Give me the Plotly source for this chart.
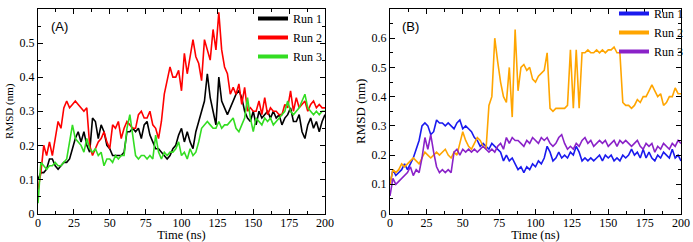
import plotly.graph_objects as go

# ---------------- data ----------------
time_ns = list(range(0, 201, 2))

a_run1 = [0.10, 0.12, 0.12, 0.13, 0.16, 0.16, 0.14, 0.13, 0.14, 0.15,
          0.15, 0.16, 0.19, 0.22, 0.24, 0.21, 0.24, 0.20, 0.18, 0.28,
          0.27, 0.22, 0.26, 0.24, 0.20, 0.19, 0.17, 0.17, 0.17, 0.17,
          0.18, 0.24, 0.24, 0.25, 0.24, 0.25, 0.22, 0.26, 0.27, 0.23,
          0.21, 0.19, 0.19, 0.18, 0.17, 0.16, 0.17, 0.19, 0.20, 0.23,
          0.25, 0.21, 0.24, 0.21, 0.19, 0.24, 0.27, 0.30, 0.33, 0.41,
          0.34, 0.30, 0.26, 0.40, 0.33, 0.31, 0.29, 0.31, 0.33, 0.35,
          0.36, 0.34, 0.30, 0.28, 0.27, 0.30, 0.26, 0.30, 0.28, 0.29,
          0.30, 0.28, 0.30, 0.28, 0.29, 0.26, 0.28, 0.29, 0.31, 0.27,
          0.27, 0.29, 0.24, 0.22, 0.26, 0.28, 0.25, 0.27, 0.24, 0.27,
          0.29]
a_run2 = [0.07, 0.12, 0.20, 0.17, 0.21, 0.17, 0.22, 0.27, 0.25, 0.31,
          0.33, 0.31, 0.32, 0.33, 0.32, 0.31, 0.30, 0.31, 0.20, 0.17,
          0.19, 0.21, 0.22, 0.24, 0.21, 0.19, 0.26, 0.25, 0.27, 0.22,
          0.25, 0.27, 0.26, 0.25, 0.25, 0.29, 0.30, 0.28, 0.28, 0.30,
          0.26, 0.25, 0.22, 0.27, 0.35, 0.39, 0.43, 0.40, 0.40, 0.42,
          0.36, 0.47, 0.41, 0.46, 0.51, 0.46, 0.44, 0.39, 0.51, 0.48,
          0.45, 0.54, 0.48, 0.59, 0.48, 0.43, 0.41, 0.35, 0.37, 0.35,
          0.38, 0.32, 0.37, 0.30, 0.31, 0.30, 0.30, 0.33, 0.29, 0.34,
          0.29, 0.31, 0.30, 0.30, 0.29, 0.29, 0.32, 0.31, 0.36, 0.30,
          0.34, 0.31, 0.32, 0.33, 0.30, 0.32, 0.33, 0.31, 0.32, 0.31,
          0.31]
a_run3 = [0.03, 0.15, 0.14, 0.13, 0.14, 0.14, 0.15, 0.14, 0.14, 0.15,
          0.16, 0.21, 0.26, 0.22, 0.21, 0.20, 0.18, 0.22, 0.19, 0.18,
          0.19, 0.17, 0.18, 0.14, 0.16, 0.16, 0.15, 0.17, 0.16, 0.17,
          0.17, 0.25, 0.29, 0.23, 0.17, 0.16, 0.17, 0.17, 0.16, 0.17,
          0.16, 0.23, 0.18, 0.16, 0.18, 0.17, 0.18, 0.18, 0.19, 0.21,
          0.17, 0.18, 0.16, 0.19, 0.17, 0.18, 0.21, 0.25, 0.26, 0.27,
          0.26, 0.25, 0.25, 0.27, 0.25, 0.26, 0.26, 0.27, 0.28, 0.25,
          0.24, 0.26, 0.28, 0.34, 0.28, 0.24, 0.28, 0.27, 0.26, 0.28,
          0.27, 0.28, 0.26, 0.27, 0.28, 0.29, 0.30, 0.33, 0.30, 0.29,
          0.30, 0.31, 0.33, 0.35, 0.31, 0.30, 0.29, 0.30, 0.29, 0.30,
          0.30]

b_run1 = [0.10, 0.15, 0.13, 0.14, 0.15, 0.17, 0.15, 0.17, 0.19, 0.22,
          0.25, 0.30, 0.31, 0.30, 0.27, 0.28, 0.32, 0.31, 0.31, 0.30,
          0.31, 0.30, 0.29, 0.31, 0.32, 0.29, 0.30, 0.29, 0.28, 0.26,
          0.25, 0.23, 0.24, 0.23, 0.22, 0.24, 0.23, 0.22, 0.21, 0.18,
          0.20, 0.18, 0.19, 0.17, 0.15, 0.16, 0.14, 0.16, 0.15, 0.17,
          0.16, 0.18, 0.17, 0.19, 0.23, 0.21, 0.18, 0.19, 0.21, 0.19,
          0.20, 0.19, 0.21, 0.20, 0.23, 0.21, 0.18, 0.19, 0.18, 0.19,
          0.18, 0.19, 0.20, 0.18, 0.20, 0.19, 0.20, 0.18, 0.19, 0.18,
          0.20, 0.19, 0.20, 0.22, 0.20, 0.21, 0.19, 0.22, 0.19, 0.21,
          0.19, 0.18, 0.20, 0.19, 0.21, 0.20, 0.19, 0.22, 0.19, 0.20,
          0.18]
b_run2 = [0.10, 0.15, 0.14, 0.15, 0.17, 0.16, 0.17, 0.18, 0.19, 0.18,
          0.17, 0.19, 0.21, 0.20, 0.19, 0.20, 0.21, 0.20, 0.21, 0.22,
          0.20, 0.19, 0.21, 0.20, 0.24, 0.28, 0.25, 0.23, 0.22, 0.24,
          0.26, 0.25, 0.23, 0.22, 0.37, 0.40, 0.60, 0.52, 0.45, 0.40,
          0.38, 0.50, 0.33, 0.63, 0.42, 0.50, 0.51, 0.49, 0.50, 0.46,
          0.45, 0.47, 0.48, 0.49, 0.55, 0.36, 0.35, 0.36, 0.36, 0.36,
          0.36, 0.37, 0.56, 0.36, 0.56, 0.36, 0.55, 0.55, 0.56, 0.55,
          0.55, 0.56, 0.55, 0.56, 0.55, 0.56, 0.56, 0.57, 0.55, 0.55,
          0.38, 0.37, 0.37, 0.36, 0.37, 0.39, 0.38, 0.40, 0.40, 0.42,
          0.44, 0.42, 0.40, 0.41, 0.37, 0.38, 0.40, 0.40, 0.43, 0.41,
          0.41]
b_run3 = [0.06, 0.12, 0.10, 0.11, 0.12, 0.13, 0.14, 0.16, 0.13, 0.15,
          0.14, 0.19, 0.26, 0.22, 0.27, 0.21, 0.16, 0.14, 0.15, 0.14,
          0.15, 0.14, 0.21, 0.22, 0.20, 0.22, 0.21, 0.22, 0.21, 0.22,
          0.21, 0.22, 0.23, 0.22, 0.21, 0.22, 0.21, 0.23, 0.24, 0.22,
          0.26, 0.24, 0.26, 0.25, 0.25, 0.24, 0.23, 0.25, 0.24, 0.26,
          0.25, 0.24, 0.26, 0.25, 0.26, 0.24, 0.23, 0.24, 0.26, 0.27,
          0.24, 0.22, 0.23, 0.22, 0.24, 0.23, 0.25, 0.26, 0.24, 0.25,
          0.23, 0.24, 0.25, 0.24, 0.25, 0.23, 0.24, 0.25, 0.23, 0.25,
          0.24, 0.25, 0.24, 0.23, 0.24, 0.25, 0.23, 0.22, 0.24, 0.23,
          0.24, 0.21, 0.23, 0.22, 0.24, 0.23, 0.22, 0.24, 0.23, 0.25,
          0.24]

run_names = ["Run 1", "Run 2", "Run 3"]
colors_a = ["#000000", "#ff0000", "#33dd22"]
colors_b = ["#1a1aee", "#ffa500", "#8a22c8"]
x_ticks = [0, 25, 50, 75, 100, 125, 150, 175, 200]
y_ticks_a = [0, 0.1, 0.2, 0.3, 0.4, 0.5]
y_ticks_b = [0, 0.1, 0.2, 0.3, 0.4, 0.5, 0.6]

SERIF = "'Liberation Serif', 'Times New Roman', Times, 'DejaVu Serif', serif"
SANS = "'Liberation Sans', Arial, Helvetica, sans-serif"

fig = go.Figure()

for name, ys, c in zip(run_names, [a_run1, a_run2, a_run3], colors_a):
    fig.add_trace(go.Scatter(x=time_ns, y=ys, mode="lines", name=name,
                             line=dict(color=c, width=1.6), showlegend=False,
                             xaxis="x", yaxis="y"))
for name, ys, c in zip(run_names, [b_run1, b_run2, b_run3], colors_b):
    fig.add_trace(go.Scatter(x=time_ns, y=ys, mode="lines", name=name,
                             line=dict(color=c, width=1.6), showlegend=False,
                             xaxis="x2", yaxis="y2"))
# legend entries (thick sample lines)
for name, c in zip(run_names, colors_a):
    fig.add_trace(go.Scatter(x=[None], y=[None], mode="lines", name=name,
                             line=dict(color=c, width=4), legend="legend",
                             xaxis="x", yaxis="y"))
for name, c in zip(run_names, colors_b):
    fig.add_trace(go.Scatter(x=[None], y=[None], mode="lines", name=name,
                             line=dict(color=c, width=4), legend="legend2",
                             xaxis="x2", yaxis="y2"))

W, H = 693, 242

def xax(domain, anchor):
    return dict(domain=domain, anchor=anchor, range=[0, 200],
                tickvals=x_ticks, ticks="inside", ticklen=5, tickcolor="black",
                minor=dict(dtick=12.5, ticks="inside", ticklen=3, tickcolor="black"),
                showline=True, linecolor="black", linewidth=1, mirror="ticks",
                showgrid=False, zeroline=False, ticklabelstandoff=-2,
                tickfont=dict(family=SERIF, size=12, color="black"),
                title=dict(text="Time (ns)", standoff=3,
                           font=dict(family=SERIF, size=12.5, color="black")))

def yax(domain, anchor, rng, tv, tsize, tstand):
    return dict(domain=domain, anchor=anchor, range=rng,
                tickvals=tv, ticktext=[("0" if v == 0 else f"{v:.1f}") for v in tv],
                ticks="inside", ticklen=5, tickcolor="black",
                minor=dict(dtick=0.05, ticks="inside", ticklen=3, tickcolor="black"),
                showline=True, linecolor="black", linewidth=1, mirror="ticks",
                showgrid=False, zeroline=False,
                tickfont=dict(family=SERIF, size=12, color="black"),
                title=dict(text="RMSD (nm)", standoff=tstand,
                           font=dict(family=SERIF, size=tsize, color="black")))

ydom = [1 - 213.5 / H, 1 - 9 / H]
fig.update_layout(
    width=W, height=H,
    margin=dict(l=0, r=0, t=0, b=0, autoexpand=False),
    paper_bgcolor="white", plot_bgcolor="white",
    font=dict(family=SERIF, color="black"),
    xaxis=xax([38 / W, 325 / W], "y"),
    yaxis=yax(ydom, "x", [0, 0.6], y_ticks_a, 11, 3),
    xaxis2=xax([390 / W, 681 / W], "y2"),
    yaxis2=yax(ydom, "x2", [0, 0.7], y_ticks_b, 13, 3),
    legend=dict(x=253 / W, y=1 - 4 / H, xanchor="left", yanchor="top",
                bgcolor="rgba(0,0,0,0)", font=dict(family=SERIF, size=12, color="black"),
                tracegroupgap=0, itemwidth=30),
    legend2=dict(x=614 / W, y=1 + 1 / H, xanchor="left", yanchor="top",
                 bgcolor="rgba(0,0,0,0)", font=dict(family=SERIF, size=12, color="black"),
                 tracegroupgap=0, itemwidth=30),
    annotations=[
        dict(text="(A)", xref="paper", yref="paper", x=49 / W, y=1 - 27 / H,
             xanchor="left", yanchor="middle", showarrow=False,
             font=dict(family=SANS, size=13, color="black")),
        dict(text="(B)", xref="paper", yref="paper", x=400 / W, y=1 - 27 / H,
             xanchor="left", yanchor="middle", showarrow=False,
             font=dict(family=SANS, size=13, color="black")),
    ],
)

fig.write_html("out.html", config={"displayModeBar": False},
               post_script="document.body.style.margin='0';")
